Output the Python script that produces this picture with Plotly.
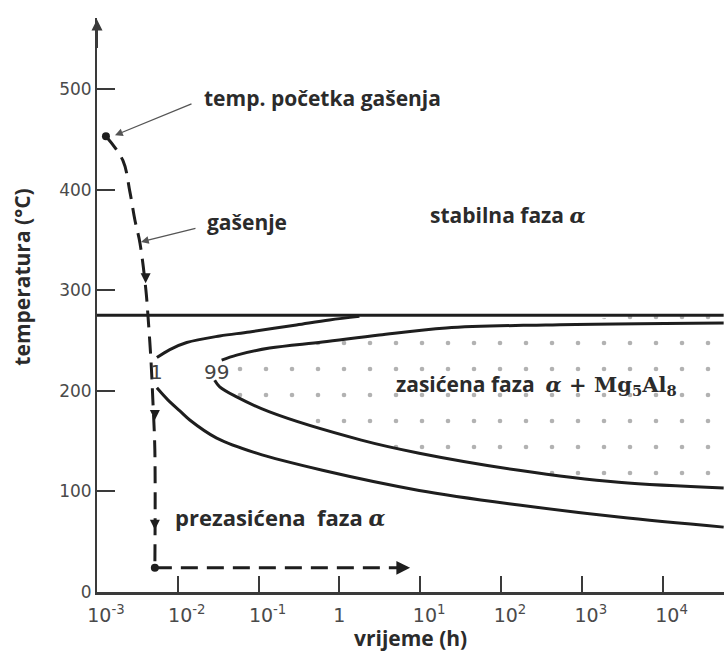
import math
import plotly.graph_objects as go

# ---------------- data ----------------
# quench path (time in h, temperature in °C)
quench_t = [0.00129, 0.00209, 0.00255, 0.00294, 0.00340, 0.00403, 0.00427, 0.00465, 0.00491, 0.0052, 0.0052]
quench_T = [453, 429, 398, 370, 347, 300, 275, 231, 191, 141, 24]
hold_t = [0.0052, 7.0]
hold_T = [24, 24]

# solvus line
solvus_t = [0.001, 57000]
solvus_T = [275, 275]

# curve "1" (start of precipitation)
c1_up_t = [0.00551, 0.00797, 0.0129, 0.0330, 0.0775, 0.294, 0.753, 1.77]
c1_up_T = [233, 241, 248, 254.5, 258.5, 265.5, 270.5, 274]
c1_lo_t = [0.00551, 0.00753, 0.0106, 0.01406, 0.0303, 0.0944, 0.617, 9.72, 166.7, 2862, 57000]
c1_lo_T = [203, 191, 180, 171, 153, 138, 121, 101, 86.5, 74.5, 64.5]

# curve "99" (end of precipitation)
c99_up_t = [0.0349, 0.0535, 0.1368, 0.6166, 3.12, 20.9, 359, 57000]
c99_up_T = [230.5, 235.5, 242.5, 248.5, 255.5, 262.5, 265.5, 267.5]
c99_lo_t = [0.0286, 0.0330, 0.0535, 0.1368, 1.87, 9.72, 166.7, 2862, 57000]
c99_lo_T = [210.5, 204, 194, 179, 151, 138, 121, 109, 103.5]

# axis ticks
x_tickvals = [0.001, 0.01, 0.1, 1, 10, 100, 1000, 10000]
x_ticktext = ["10<sup>-3</sup>", "10<sup>-2</sup>", "10<sup>-1</sup>", "1\u00a0\u00a0\u00a0",
              "10<sup>1</sup>", "10<sup>2</sup>", "10<sup>3</sup>", "10<sup>4</sup>"]
y_tickvals = [0, 100, 200, 300, 400, 500]

# ---------------- figure ----------------
INK = "#1e1e1e"
AX = "#3a3a3a"
TXT = "#2b2b2b"
LBL_FONT = "Open Sans"
LBL_SIZE = 21

fig = go.Figure()

# stippled region inside curve 99
fig.add_trace(go.Scatter(
    x=c99_up_t + c99_lo_t[::-1], y=c99_up_T + c99_lo_T[::-1],
    mode="lines", fill="toself", line=dict(width=0, shape="spline"),
    fillcolor="white",
    fillpattern=dict(shape=".", size=26, solidity=0.025, fgcolor="#666666", bgcolor="white"),
    hoverinfo="skip", showlegend=False))

solid = dict(color=INK, width=3, shape="spline")
for tx, ty in [(solvus_t, solvus_T), (c1_up_t, c1_up_T), (c1_lo_t, c1_lo_T),
               (c99_up_t, c99_up_T), (c99_lo_t, c99_lo_T)]:
    fig.add_trace(go.Scatter(x=tx, y=ty, mode="lines", line=solid,
                             hoverinfo="skip", showlegend=False))

# quench path (dashed)
fig.add_trace(go.Scatter(x=quench_t, y=quench_T, mode="lines",
                         line=dict(color=INK, width=3, dash="17px,9px", shape="spline"),
                         hoverinfo="skip", showlegend=False))
fig.add_trace(go.Scatter(x=hold_t, y=hold_T, mode="lines",
                         line=dict(color=INK, width=3, dash="17px,9px"),
                         hoverinfo="skip", showlegend=False))
fig.add_trace(go.Scatter(x=[quench_t[0], quench_t[-1]], y=[quench_T[0], quench_T[-1]],
                         mode="markers", marker=dict(color=INK, size=8),
                         hoverinfo="skip", showlegend=False))

annotations = []
lg = math.log10

# arrowheads along the quench path
for t, T in [(0.00400, 307), (0.0052, 171), (0.0052, 62)]:
    annotations.append(dict(x=lg(t), y=T, xref="x", yref="y", text="", showarrow=True,
                            ax=0, ay=-9, arrowhead=2, arrowsize=1.0, arrowwidth=2,
                            arrowcolor=INK))
annotations.append(dict(x=lg(hold_t[-1]) + 0.03, y=24, xref="x", yref="y", text="",
                        showarrow=True, ax=-12, ay=0, arrowhead=2, arrowsize=1.1,
                        arrowwidth=2.5, arrowcolor=INK))

# y-axis arrow
annotations.append(dict(x=-3, y=569, xref="x", yref="y", text="", showarrow=True,
                        ax=0, ay=30, arrowhead=2, arrowsize=1.1, arrowwidth=2,
                        arrowcolor=AX))

# pointer arrows
annotations.append(dict(x=lg(0.00167), y=454, xref="x", yref="y", text="", showarrow=True,
                        ax=78, ay=-32, arrowhead=2, arrowsize=1.2, arrowwidth=1.3,
                        arrowcolor="#555"))
annotations.append(dict(x=lg(0.00350), y=348, xref="x", yref="y", text="", showarrow=True,
                        ax=56, ay=-14, arrowhead=2, arrowsize=1.2, arrowwidth=1.3,
                        arrowcolor="#555"))

alpha = '<span style="font-family:\'DejaVu Serif\'"><i>α</i></span>'

def label(x_log, y, text, size=LBL_SIZE, anchor="left", family=LBL_FONT, color=TXT):
    annotations.append(dict(x=x_log, y=y, xref="x", yref="y", text=text, showarrow=False,
                            xanchor=anchor, yanchor="middle",
                            font=dict(family=family, size=size, color=color)))

label(-1.704, 491, "<b>temp. početka gašenja</b>")
label(-1.667, 368, "<b>gašenje</b>")
label(1.099, 375, "<b>stabilna faza " + alpha + "</b>")
label(0.679, 206, "<b>zasićena faza  </b>" +
      '<span style="font-family:\'DejaVu Serif\'"><b><i>α</i> + Mg<sub>5</sub>Al<sub>8</sub></b></span>')
label(-2.062, 75, "<b>prezasićena  faza " + alpha + "</b>", size=22)
label(-2.259, 219, "1", size=20, anchor="center", family="DejaVu Sans", color="#444")
label(-1.519, 219, "99", size=20, anchor="center", family="DejaVu Sans", color="#444")

# axis titles
annotations.append(dict(x=0.5, y=-0.080, xref="paper", yref="paper", showarrow=False,
                        text="<b>vrijeme (h)</b>", xanchor="center", yanchor="middle",
                        font=dict(family=LBL_FONT, size=21, color=TXT)))
annotations.append(dict(x=-0.12, y=0.549, xref="paper", yref="paper", showarrow=False,
                        text="<b>temperatura (°C)</b>", textangle=-90,
                        xanchor="center", yanchor="middle",
                        font=dict(family=LBL_FONT, size=21, color=TXT)))

fig.update_layout(
    width=724, height=655,
    margin=dict(l=97, r=0, t=18, b=63, autoexpand=False),
    paper_bgcolor="white", plot_bgcolor="white",
    showlegend=False,
    annotations=annotations,
    xaxis=dict(type="log", range=[-3, 4.76], showgrid=False, zeroline=False,
               automargin=False,
               showline=True, linecolor=AX, linewidth=2.5,
               ticks="inside", ticklen=16, tickwidth=1.5, tickcolor=AX,
               tickvals=x_tickvals, ticktext=x_ticktext,
               ticklabelshift=9, ticklabelstandoff=4,
               tickfont=dict(family="DejaVu Sans", size=19, color="#4a4a4a")),
    yaxis=dict(range=[0, 570.6], showgrid=False, zeroline=False,
               automargin=False,
               showline=True, linecolor=AX, linewidth=2,
               ticks="inside", ticklen=18, tickwidth=1.5, tickcolor=AX,
               tickvals=y_tickvals,
               tickfont=dict(family="DejaVu Sans", size=17, color="#4a4a4a")),
)

fig.write_html("out.html", config={"displayModeBar": False},
               post_script="document.body.style.margin='0';document.body.style.overflow='hidden';")
